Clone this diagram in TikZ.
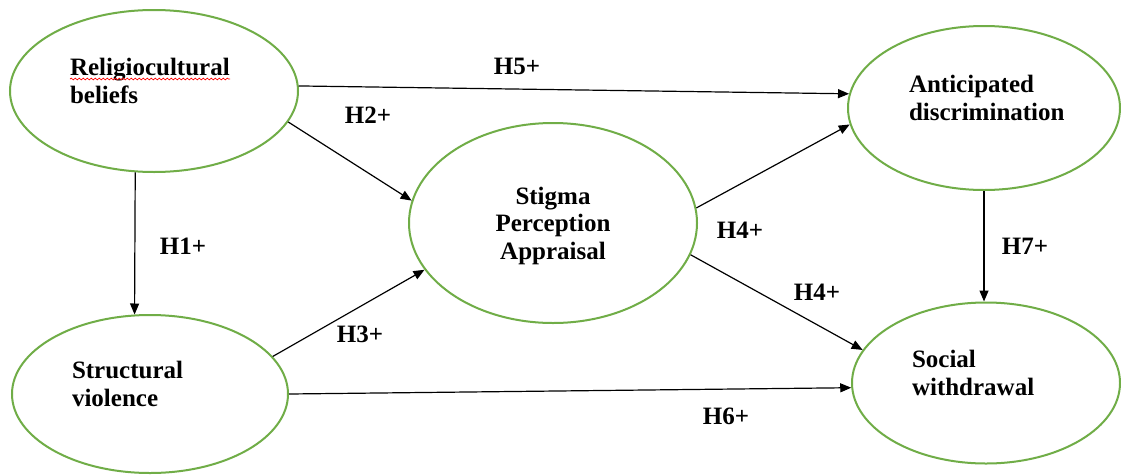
\documentclass[tikz,border=0pt]{standalone}
\usepackage{fontspec}
\setmainfont{Liberation Serif}
\usepackage{tikz}
\usetikzlibrary{shapes.geometric, arrows.meta, decorations.pathmorphing}
\definecolor{ovalgreen}{HTML}{70AD47}

\begin{document}
\begin{tikzpicture}[x=1pt, y=-1pt,
  construct/.style={ellipse, draw=ovalgreen, line width=2pt, inner sep=2pt,
    font=\bfseries\fontsize{25}{27.5}\selectfont},
  sidetext/.style={align=left, text depth=48pt},
  hyp/.style={font=\bfseries\fontsize{25}{27.5}\selectfont, inner sep=1pt},
  path/.style={-{Triangle[length=11pt, width=9pt]}, line width=1.2pt, black}]
  \fill[white] (0,0) rectangle (1121,474);
  \useasboundingbox (0,0) rectangle (1121,474);

  %% Constructs
  \node[construct, sidetext, text width=168pt, minimum width=288pt, minimum height=162pt]
    (relig) at (154,91) {Religiocultural\\beliefs};
  \node[construct, sidetext, text width=156pt, minimum width=276pt, minimum height=158pt]
    (struct) at (150,394) {Structural\\violence};
  \node[construct, align=center, text depth=0pt, minimum width=288pt, minimum height=200pt]
    (stigma) at (553,223) {Stigma\\Perception\\Appraisal};
  \node[construct, sidetext, text width=150pt, minimum width=272pt, minimum height=164pt]
    (antic) at (984,108) {Anticipated\\discrimination};
  \node[construct, sidetext, text width=148pt, minimum width=268pt, minimum height=161pt]
    (social) at (986,383) {Social\\withdrawal};

  % spell-check squiggle under the first word
  \draw[red, line width=0.7pt, decorate,
    decoration={snake, amplitude=0.9pt, segment length=4pt}] (70,79) -- (230,79);

  %% Paths
  \draw[path] (relig.2) -- (antic.174);
  \draw[path] (relig.347) -- (stigma.171);
  \draw[path] (relig.257) -- (struct.101);
  \draw[path] (struct.17) -- (stigma.200);
  \draw[path] (struct.0) -- (social.182);
  \draw[path] (stigma.6) -- (antic.187);
  \draw[path] (stigma.347) -- (social.165);
  \draw[path] (antic.south) -- (antic.south |- social.north);

  %% Hypothesis labels
  \foreach \nm/\x/\y/\txt in {h5/517/66/H5+, h2/368/115/H2+, h1/183/246/H1+,
      h3/360/334/H3+, h4a/740/230/H4+, h4b/817/292/H4+, h6/726/416/H6+, h7/1025/246/H7+}{
    \node[hyp] (\nm) at (\x,\y) {\txt};
  }
\end{tikzpicture}
\end{document}
